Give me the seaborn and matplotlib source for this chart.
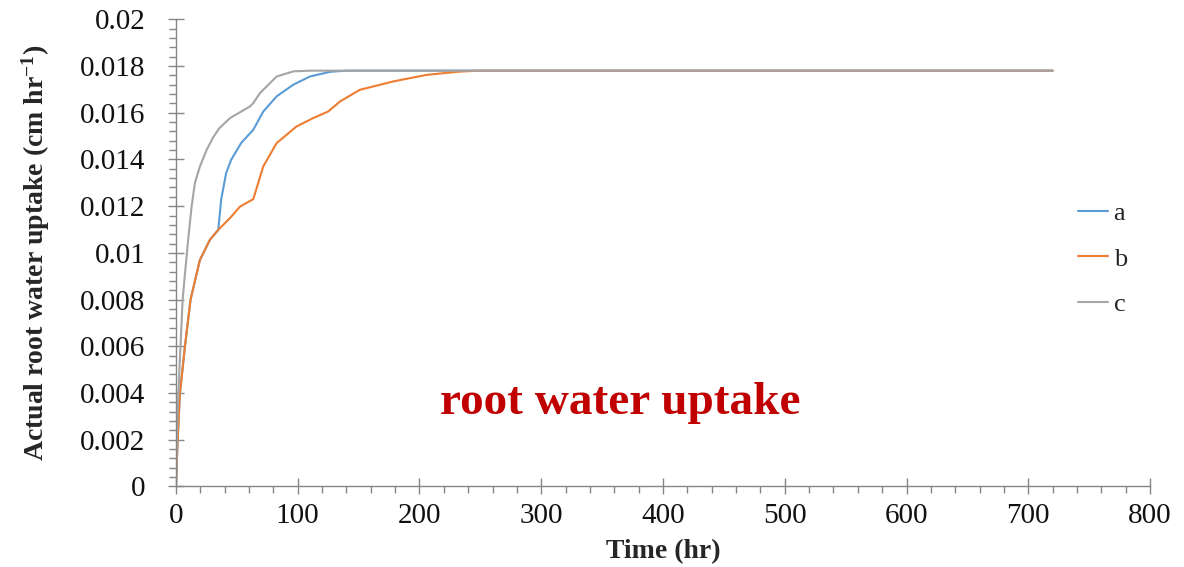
import matplotlib
matplotlib.use("Agg")
import matplotlib.pyplot as plt
import pandas as pd
import seaborn as sns
from matplotlib.ticker import MultipleLocator

# Actual root water uptake over time for three cases
time_a = [0, 1.4, 3.3, 7.4, 12, 19.7, 27.9, 34.8, 37.1, 41.2, 45.3, 53.5,
          63.5, 71.7, 82.7, 96.4, 110, 126.5, 140, 720]
uptake_a = [0, 0.002, 0.004, 0.006, 0.008, 0.0097, 0.01056, 0.01099, 0.01227,
            0.01341, 0.01398, 0.0147, 0.01527, 0.01605, 0.0167, 0.0172,
            0.01755, 0.01775, 0.0178, 0.0178]

time_b = [0, 1.4, 3.3, 7.4, 12, 19.7, 27.9, 34.8, 44.4, 52.6, 63.5, 71.7,
          82.7, 99, 112.7, 125, 134.7, 151, 178.5, 205.9, 233, 250, 720]
uptake_b = [0, 0.002, 0.004, 0.006, 0.008, 0.0097, 0.01056, 0.01099, 0.01149,
            0.01198, 0.0123, 0.0137, 0.0147, 0.01541, 0.01577, 0.01605,
            0.01648, 0.01698, 0.01734, 0.01762, 0.01776, 0.0178, 0.0178]

time_c = [0, 1.2, 3.3, 5.5, 7.4, 10.1, 12.9, 15.6, 19.7, 25.2, 30.6, 35.7,
          44.4, 60.8, 63.5, 69, 82.7, 96.4, 110, 720]
uptake_c = [0, 0.003, 0.0055, 0.008, 0.0091, 0.0106, 0.012, 0.013, 0.0137,
            0.01441, 0.01495, 0.01534, 0.01577, 0.01627, 0.01641, 0.01684,
            0.01755, 0.01777, 0.0178, 0.0178]

series_names = ["a", "b", "c"]
series_colors = ["#5B9BD5", "#ED7D31", "#A5A5A5"]

x_ticks = [0, 100, 200, 300, 400, 500, 600, 700, 800]
y_ticks = [0, 0.002, 0.004, 0.006, 0.008, 0.01, 0.012, 0.014, 0.016, 0.018, 0.02]
y_tick_labels = ["0", "0.002", "0.004", "0.006", "0.008", "0.01", "0.012",
                 "0.014", "0.016", "0.018", "0.02"]

frames = [
    pd.DataFrame({"time": t, "uptake": u, "series": n})
    for t, u, n in zip([time_a, time_b, time_c],
                       [uptake_a, uptake_b, uptake_c], series_names)
]
df = pd.concat(frames, ignore_index=True)

sns.set_style("white")
plt.rcParams["font.family"] = ["Liberation Serif", "DejaVu Serif"]
plt.rcParams["mathtext.fontset"] = "custom"
plt.rcParams["mathtext.rm"] = "Liberation Serif:bold"
plt.rcParams["mathtext.bf"] = "Liberation Serif:bold"
plt.rcParams["mathtext.default"] = "bf"

fig = plt.figure(figsize=(11.84, 5.67), dpi=100)
ax = fig.add_axes([0.1486, 0.142, 0.8227, 0.824])

sns.lineplot(data=df, x="time", y="uptake", hue="series",
             palette=dict(zip(series_names, series_colors)),
             estimator=None, sort=False, linewidth=1.5, ax=ax)

ax.set_xlim(0, 800)
ax.set_ylim(0, 0.02)
ax.set_xticks(x_ticks)
ax.set_yticks(y_ticks)
ax.set_yticklabels(y_tick_labels)
ax.xaxis.set_minor_locator(MultipleLocator(20))
ax.yaxis.set_minor_locator(MultipleLocator(0.0004))

axis_color = "#868686"
for side in ["top", "right"]:
    ax.spines[side].set_visible(False)
for side in ["left", "bottom"]:
    ax.spines[side].set_color(axis_color)
    ax.spines[side].set_linewidth(1.0)

ax.tick_params(which="both", bottom=True, left=True, top=False, right=False)
ax.tick_params(which="major", direction="inout", length=12, width=1.0,
               color=axis_color, labelsize=21, labelcolor="#111111")
ax.tick_params(which="minor", direction="out", length=5, width=1.0,
               color=axis_color)
ax.tick_params(axis="y", which="major", pad=16)
ax.tick_params(axis="x", which="major", pad=6)

ax.set_xlabel("Time (hr)", fontsize=20, fontweight="bold")
ax.set_ylabel(r"Actual root water uptake (cm hr$^{\mathbf{-1}}$)",
              fontsize=20, fontweight="bold")
ax.xaxis.set_label_coords(0.5, -0.112)
ax.xaxis.label.set_va("top")
ax.yaxis.set_label_coords(-0.127, 0.5)

ax.text(0.456, 0.179, "root water uptake", transform=ax.transAxes,
        ha="center", va="center", fontsize=34, fontweight="bold",
        color="#C00000")

sns.move_legend(ax, "center left", bbox_to_anchor=(0.926, 0.487),
                title=None, frameon=False, fontsize=19, borderpad=0,
                borderaxespad=0, handlelength=1.15, handletextpad=0.2,
                labelspacing=0.83)

fig.savefig("out.png", dpi=100)
